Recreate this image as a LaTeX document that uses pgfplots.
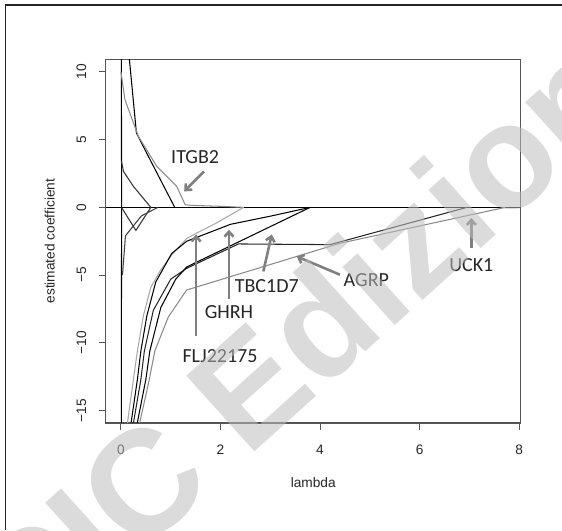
\documentclass[border=0pt]{standalone}
\usepackage{fontspec}
\setmainfont{Liberation Sans}
\newfontfamily\annot{Carlito}
\usepackage{pgfplots}
\pgfplotsset{compat=1.18}
\usetikzlibrary{arrows.meta}

\definecolor{boxgray}{HTML}{555555}
\definecolor{lgray}{HTML}{A8A8A8}
\definecolor{mgray}{HTML}{8A8A8A}
\definecolor{arrgray}{HTML}{808080}
\definecolor{txt}{HTML}{262626}
\definecolor{wm}{HTML}{BDBDBD}

\begin{document}
\begin{tikzpicture}[x=1pt,y=1pt]
\path[use as bounding box] (0,0) rectangle (562,530);
% outer frame (top and left only)
\draw[line width=1.2pt, black!85] (5.5,0) -- (5.5,525) -- (562,525);
\begin{axis}[
  at={(105.7pt,107pt)}, anchor=south west,
  width=415.1pt, height=363.9pt, scale only axis,
  xmin=-0.307, xmax=8.034, ymin=-15.92, ymax=10.95,
  axis line style={boxgray, line width=1.1pt},
  xtick={0,2,4,6,8}, ytick={-15,-10,-5,0,5,10},
  yticklabels={−15,−10,−5,0,5,10},
  tick align=outside, tick pos=left, major tick length=7pt,
  tick style={boxgray, line width=1pt},
  /pgf/number format/assume math mode=true,
  ticklabel style={font=\fontsize{13.7}{16}\selectfont, text=txt},
  xticklabel style={anchor=north, inner sep=0pt},
  xticklabel shift=14.4pt,
  yticklabel style={rotate=90, anchor=south, inner sep=0pt},
  yticklabel shift=12.3pt,
  xlabel={lambda}, ylabel={estimated coefficient},
  label style={font=\fontsize{13.7}{16}\selectfont, text=txt},
  xlabel style={at={(axis description cs:0.5,-0.165)}, anchor=center},
  ylabel style={at={(axis description cs:-0.135,0.5)}, anchor=center},
  every axis plot/.append style={line width=1.05pt},
]
% zero line
\addplot[black, line width=1.7pt] coordinates {(-0.307,0) (8.034,0)};

% positive paths
\addplot[black] coordinates {(0,40) (0.012,0)};
\addplot[black] coordinates {(0.1,15) (0.17,10.9) (0.31,5.5) (0.55,3.77) (1.08,0)};
\addplot[mgray] coordinates {(0,10) (0.08,7.95) (0.35,5.24) (0.72,3.03) (1.12,1.55) (1.29,0.2) (1.4,0.15) (2.0,0.08) (2.47,0)};
\addplot[black!80] coordinates {(0.01,3.4) (0.05,2.66) (0.25,1.55) (0.6,0)};

% small negative paths
\addplot[black] coordinates {(0,-40) (0.012,0)};
\addplot[black!80] coordinates {(0.01,0) (0.3,-1.7) (0.6,0)};
\addplot[black!75] coordinates {(0.03,-5) (0.09,-2.1) (0.41,-0.63) (0.74,0)};

% main negative paths
\addplot[lgray] coordinates {(0.09,-17) (0.25,-12.7) (0.33,-10.6) (0.45,-8) (0.6,-5.9) (0.8,-4.6) (1.02,-3.5) (1.32,-2.3) (1.52,-1.9) (1.92,-1.15) (2.46,0)};
\addplot[black] coordinates {(0.16,-17) (0.33,-12.7) (0.4,-10.6) (0.52,-8) (0.7,-5.5) (1.02,-3.4) (1.32,-2.5) (2.2,-1.25) (3.0,-0.65) (3.8,0)};
\addplot[black!85] coordinates {(0.2,-17) (0.4,-12.7) (0.47,-10.6) (0.65,-7.6) (1.0,-5.3) (1.32,-4.5) (2.36,-2.7) (4.2,-2.75) (6.95,0)};
\addplot[black] coordinates {(0.27,-17) (0.5,-12.7) (0.58,-10.6) (0.8,-7.4) (1.1,-5.3) (1.32,-4.4) (3.8,0)};
\addplot[mgray] coordinates {(0.31,-17) (0.57,-12.7) (0.68,-10.6) (0.95,-8.1) (1.32,-6.1) (4.4,-2.65) (7.72,0)};

% annotations
\begin{scope}[arrgray, line width=2.6pt, -{Straight Barb[length=5pt,width=9pt]}]
\draw (axis cs:1.67,2.66) -- (axis cs:1.27,1.18);
\draw (axis cs:1.51,-9.53) -- (axis cs:1.51,-2.0);
\draw (axis cs:2.17,-6.8) -- (axis cs:2.17,-1.65);
\draw (axis cs:2.86,-4.73) -- (axis cs:3.03,-2.0);
\draw (axis cs:4.4,-4.97) -- (axis cs:3.53,-3.62);
\draw (axis cs:7.04,-3.0) -- (axis cs:7.04,-0.78);
\end{scope}
\begin{scope}[every node/.style={font=\annot\fontsize{20}{22}\selectfont, text=txt}]
\node at (axis cs:1.49,3.72) {ITGB2};
\node at (axis cs:1.99,-10.95) {FLJ22175};
\node at (axis cs:2.17,-7.75) {GHRH};
\node at (axis cs:2.93,-5.8) {TBC1D7};
\node at (axis cs:4.93,-5.34) {AGRP};
\node at (axis cs:7.04,-4.23) {UCK1};
\end{scope}
\end{axis}
% watermark
\begin{scope}
\clip (0,0) rectangle (562,530);
\node[rotate=42, anchor=base west, inner sep=0pt, text=wm, opacity=0.55,
  font=\fontsize{148}{148}\selectfont\bfseries] at (27,-127) {CIC Edizioni};
\end{scope}
\end{tikzpicture}
\end{document}
